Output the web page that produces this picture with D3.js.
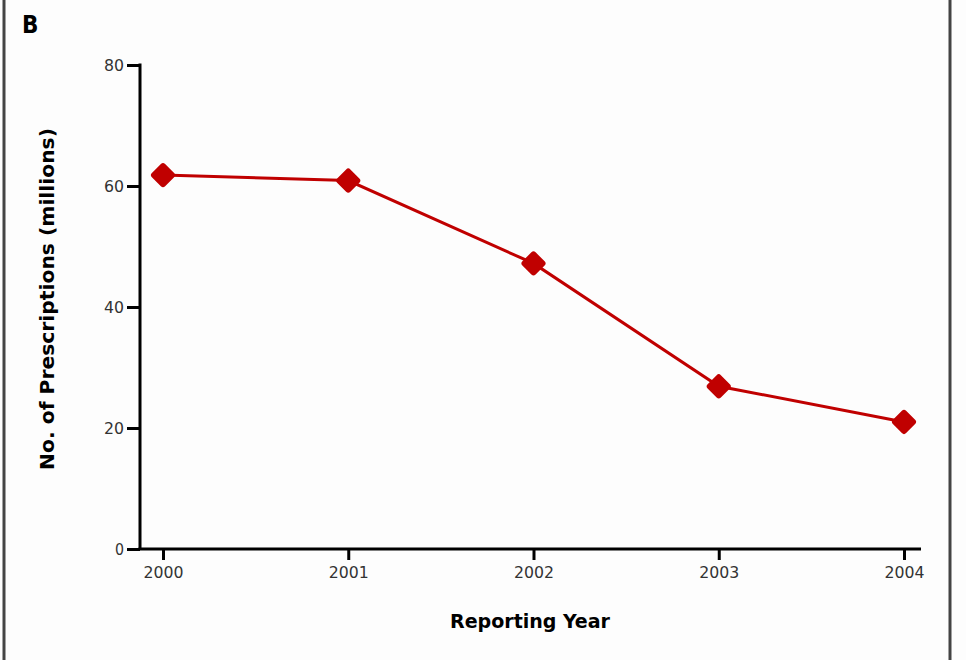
<!DOCTYPE html>
<html>
<head>
<meta charset="utf-8">
<script src="https://cdn.jsdelivr.net/npm/d3@7"></script>
<style>
  html, body { margin: 0; padding: 0; background: #fdfdfd; }
  svg { display: block; }
  .lbl { font-family: "Liberation Sans Narrow", "DejaVu Sans Condensed", "Liberation Sans", sans-serif; }
</style>
</head>
<body>
<svg id="chart" width="966" height="660"></svg>
<script>
// Prescriptions per reporting year (millions)
const years = [2000, 2001, 2002, 2003, 2004];
const prescriptions = [61.8, 60.9, 47.2, 26.9, 21.0];
const yTicks = [0, 20, 40, 60, 80];
const panelLabel = "B";
const xTitle = "Reporting Year";
const yTitle = "No. of Prescriptions (millions)";

const svg = d3.select("#chart");
const W = 966, H = 660;
const plot = { left: 140, right: 921, top: 65, bottom: 549 };

// Panel frame edges
svg.append("rect").attr("x", 0).attr("y", 0).attr("width", W).attr("height", H).attr("fill", "#fdfdfd");
svg.append("line").attr("x1", 4).attr("x2", 4).attr("y1", 0).attr("y2", H)
  .attr("stroke", "#444").attr("stroke-width", 3);
svg.append("line").attr("x1", 950).attr("x2", 950).attr("y1", 0).attr("y2", H)
  .attr("stroke", "#444").attr("stroke-width", 3);

const x = d3.scalePoint().domain(years).range([163, 904]);
const y = d3.scaleLinear().domain([0, 80]).range([plot.bottom, plot.top]);

// Y axis
const yAxis = d3.axisLeft(y).tickValues(yTicks).tickSize(13).tickPadding(3).tickFormat(d3.format("d"));
const gy = svg.append("g").attr("transform", `translate(${plot.left},0)`).call(yAxis);
gy.select(".domain").attr("stroke", "#000").attr("stroke-width", 3)
  .attr("d", `M0,${plot.top - 1.5}V${plot.bottom}`);
gy.selectAll(".tick line").attr("stroke", "#000").attr("stroke-width", 3);
gy.selectAll(".tick text").attr("class", "lbl").attr("font-size", 16).attr("fill", "#333")
  .attr("textLength", d => d === 0 ? 9 : 20).attr("lengthAdjust", "spacingAndGlyphs");

// X axis
const xAxis = d3.axisBottom(x).tickSize(11).tickPadding(7).tickFormat(d3.format("d"));
const gx = svg.append("g").attr("transform", `translate(0,${plot.bottom})`).call(xAxis);
gx.select(".domain").attr("stroke", "#000").attr("stroke-width", 3)
  .attr("d", `M${plot.left - 1.5},0H${plot.right}`);
gx.selectAll(".tick line").attr("stroke", "#000").attr("stroke-width", 3);
gx.selectAll(".tick text").attr("class", "lbl").attr("font-size", 16).attr("fill", "#333")
  .attr("textLength", 40).attr("lengthAdjust", "spacingAndGlyphs");

// Titles
svg.append("text").attr("class", "lbl").attr("x", 22).attr("y", 33)
  .attr("font-size", 24).attr("font-weight", "bold").attr("fill", "#000").text(panelLabel);

svg.append("text").attr("class", "lbl")
  .attr("transform", `translate(54,${(128 + 470) / 2}) rotate(-90)`)
  .attr("text-anchor", "middle").attr("font-size", 20).attr("font-weight", "bold").attr("fill", "#000")
  .attr("textLength", 342).attr("lengthAdjust", "spacingAndGlyphs")
  .text(yTitle);

svg.append("text").attr("class", "lbl").attr("x", 530).attr("y", 628)
  .attr("text-anchor", "middle").attr("font-size", 20).attr("font-weight", "bold").attr("fill", "#000")
  .attr("textLength", 160).attr("lengthAdjust", "spacingAndGlyphs")
  .text(xTitle);

// Series line and markers
const data = years.map((yr, i) => ({ yr, v: prescriptions[i] }));
svg.append("path").datum(data)
  .attr("fill", "none").attr("stroke", "#c00000").attr("stroke-width", 3)
  .attr("d", d3.line().x(d => x(d.yr)).y(d => y(d.v)));

// Rounded diamond marker
const marker = "M0,-9L9,0L0,9L-9,0Z";
svg.selectAll("path.mk").data(data).join("path").attr("class", "mk")
  .attr("transform", d => `translate(${x(d.yr)},${y(d.v)})`)
  .attr("d", marker)
  .attr("fill", "#c00000").attr("stroke", "#c00000").attr("stroke-width", 6).attr("stroke-linejoin", "round");
</script>
</body>
</html>
